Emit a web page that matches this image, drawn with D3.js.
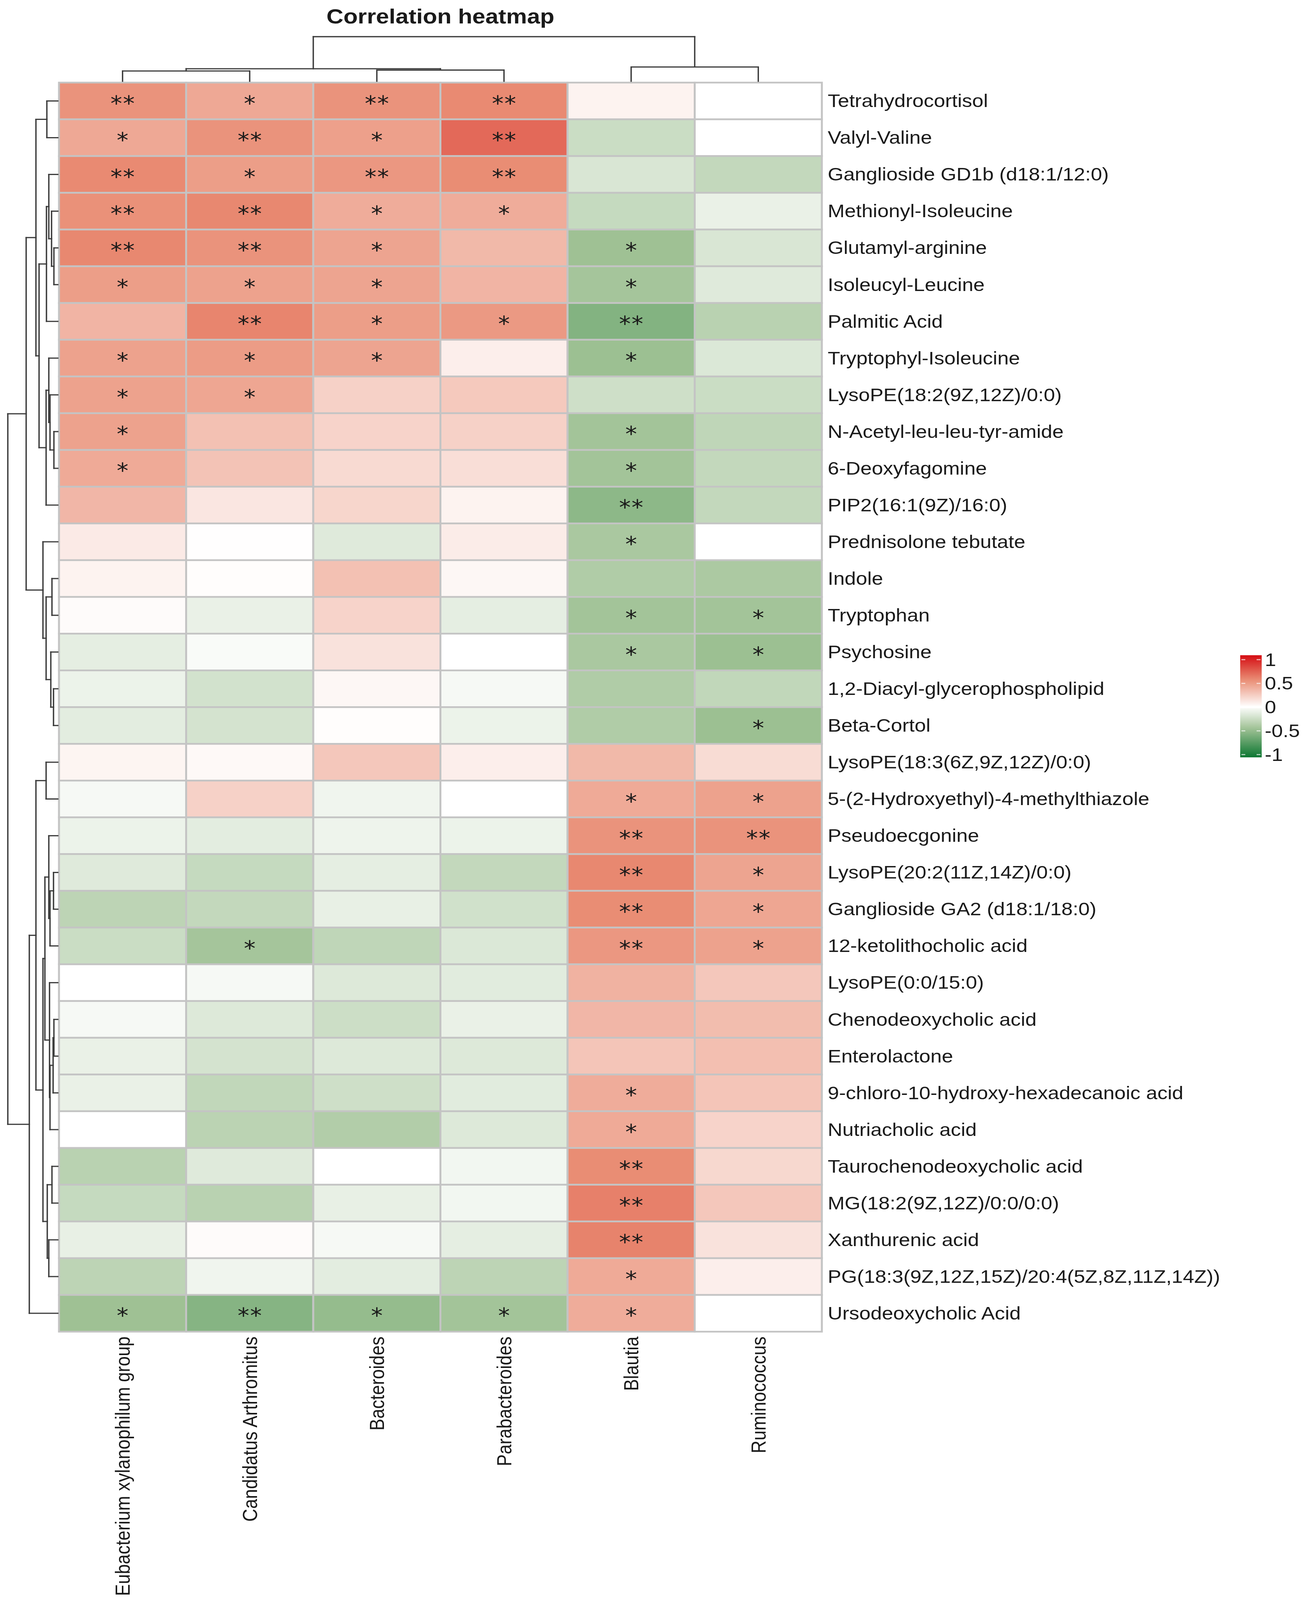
<!DOCTYPE html>
<html lang="en"><head>
<meta charset="utf-8">
<title>Correlation heatmap</title>
<script src="https://cdnjs.cloudflare.com/ajax/libs/d3/7.8.5/d3.min.js"></script>
<style>
  html, body { margin: 0; padding: 0; background: #fff; overflow: hidden; }
  svg { display: block; }
  text { font-family: "Liberation Sans", Arial, sans-serif; fill: #1a1a1a; }
</style>
</head>
<body>
<div id="chart"></div>
<script>
// ---- data ----
var colNames = ["Eubacterium xylanophilum group", "Candidatus Arthromitus", "Bacteroides",
                "Parabacteroides", "Blautia", "Ruminococcus"];

var rowNames = ["Tetrahydrocortisol", "Valyl-Valine", "Ganglioside GD1b (d18:1/12:0)",
  "Methionyl-Isoleucine", "Glutamyl-arginine", "Isoleucyl-Leucine", "Palmitic Acid",
  "Tryptophyl-Isoleucine", "LysoPE(18:2(9Z,12Z)/0:0)", "N-Acetyl-leu-leu-tyr-amide",
  "6-Deoxyfagomine", "PIP2(16:1(9Z)/16:0)", "Prednisolone tebutate", "Indole", "Tryptophan",
  "Psychosine", "1,2-Diacyl-glycerophospholipid", "Beta-Cortol", "LysoPE(18:3(6Z,9Z,12Z)/0:0)",
  "5-(2-Hydroxyethyl)-4-methylthiazole", "Pseudoecgonine", "LysoPE(20:2(11Z,14Z)/0:0)",
  "Ganglioside GA2 (d18:1/18:0)", "12-ketolithocholic acid", "LysoPE(0:0/15:0)",
  "Chenodeoxycholic acid", "Enterolactone", "9-chloro-10-hydroxy-hexadecanoic acid",
  "Nutriacholic acid", "Taurochenodeoxycholic acid", "MG(18:2(9Z,12Z)/0:0/0:0)",
  "Xanthurenic acid", "PG(18:3(9Z,12Z,15Z)/20:4(5Z,8Z,11Z,14Z))", "Ursodeoxycholic Acid"];

// correlation per row (same order as colNames)
var corr = [
  [0.52, 0.42, 0.52, 0.56, 0.06, 0.00],
  [0.42, 0.52, 0.46, 0.69, -0.25, 0.00],
  [0.56, 0.47, 0.50, 0.55, -0.18, -0.28],
  [0.53, 0.57, 0.40, 0.40, -0.27, -0.10],
  [0.57, 0.52, 0.44, 0.34, -0.45, -0.18],
  [0.47, 0.45, 0.44, 0.36, -0.42, -0.15],
  [0.36, 0.58, 0.47, 0.49, -0.56, -0.33],
  [0.45, 0.48, 0.44, 0.08, -0.46, -0.17],
  [0.45, 0.43, 0.22, 0.26, -0.23, -0.25],
  [0.45, 0.30, 0.21, 0.22, -0.43, -0.30],
  [0.41, 0.29, 0.18, 0.16, -0.43, -0.28],
  [0.35, 0.12, 0.20, 0.06, -0.52, -0.28],
  [0.10, 0.005, -0.15, 0.09, -0.40, 0.00],
  [0.06, 0.01, 0.30, 0.04, -0.37, -0.39],
  [0.02, -0.10, 0.21, -0.12, -0.43, -0.43],
  [-0.12, -0.03, 0.14, 0.00, -0.40, -0.46],
  [-0.09, -0.21, 0.04, -0.04, -0.37, -0.29],
  [-0.13, -0.20, 0.01, -0.09, -0.37, -0.46],
  [0.05, 0.03, 0.27, 0.08, 0.34, 0.17],
  [-0.04, 0.22, -0.07, 0.00, 0.41, 0.45],
  [-0.09, -0.13, -0.08, -0.09, 0.52, 0.52],
  [-0.15, -0.27, -0.12, -0.28, 0.57, 0.44],
  [-0.31, -0.28, -0.11, -0.22, 0.55, 0.43],
  [-0.25, -0.42, -0.30, -0.17, 0.50, 0.45],
  [0.00, -0.04, -0.16, -0.14, 0.37, 0.27],
  [-0.04, -0.16, -0.24, -0.10, 0.35, 0.32],
  [-0.10, -0.20, -0.16, -0.16, 0.28, 0.31],
  [-0.10, -0.29, -0.23, -0.14, 0.40, 0.28],
  [0.00, -0.32, -0.36, -0.16, 0.41, 0.21],
  [-0.33, -0.15, 0.00, -0.06, 0.55, 0.19],
  [-0.27, -0.33, -0.11, -0.06, 0.60, 0.27],
  [-0.11, 0.02, -0.04, -0.12, 0.59, 0.14],
  [-0.31, -0.07, -0.13, -0.31, 0.41, 0.08],
  [-0.45, -0.55, -0.49, -0.43, 0.40, 0.00]
];

var sig = [
  ["**","*","**","**","",""], ["*","**","*","**","",""], ["**","*","**","**","",""],
  ["**","**","*","*","",""], ["**","**","*","","*",""], ["*","*","*","","*",""],
  ["","**","*","*","**",""], ["*","*","*","","*",""], ["*","*","","","",""],
  ["*","","","","*",""], ["*","","","","*",""], ["","","","","**",""],
  ["","","","","*",""], ["","","","","",""], ["","","","","*","*"],
  ["","","","","*","*"], ["","","","","",""], ["","","","","","*"],
  ["","","","","",""], ["","","","","*","*"], ["","","","","**","**"],
  ["","","","","**","*"], ["","","","","**","*"], ["","*","","","**","*"],
  ["","","","","",""], ["","","","","",""], ["","","","","",""],
  ["","","","","*",""], ["","","","","*",""], ["","","","","**",""],
  ["","","","","**",""], ["","","","","**",""], ["","","","","*",""],
  ["*","**","*","*","*",""]
];

// hclust style merges: negative = leaf (1-based), positive = earlier merge; third = height
var rowMerge = [
  [-1,-2,0.219], [-5,-6,0.078], [-4,2,0.125], [-3,3,0.18], [4,-7,0.227],
  [-10,-11,0.078], [-9,6,0.156], [-8,7,0.18], [8,-12,0.234], [5,9,0.375],
  [1,10,0.4375], [-14,-15,0.117], [-17,-18,0.086], [-16,13,0.14], [12,14,0.234],
  [-13,15,0.297], [11,16,0.633], [-19,-20,0.234], [-22,-23,0.086], [19,-24,0.156],
  [-21,20,0.18], [-26,-27,0.078], [22,-28,0.094], [23,-29,0.156], [-25,24,0.166],
  [21,25,0.258], [-30,-31,0.117], [-32,-33,0.18], [27,28,0.211], [26,29,0.297],
  [18,30,0.4375], [31,-34,0.57], [17,32,1.0]
];
var colMerge = [
  [-1,-2,0.23], [-3,-4,0.25], [1,2,0.28], [-5,-6,0.32], [3,4,1.0]
];

var legendTicks = [1, 0.5, 0, -0.5, -1];

// ---- layout ----
var W = 3346, H = 4669;
// fit the whole drawing into whatever the viewport is
var svg = d3.select("#chart").append("svg")
  .attr("viewBox", "0 0 " + W + " " + H)
  .attr("preserveAspectRatio", "none")
  .style("width", "100vw").style("height", "100vh");

var x = d3.scaleBand().domain(colNames).range([151, 2104]);
var y = d3.scaleBand().domain(rowNames).range([241, 3886]);

var fill = d3.scaleLinear()
  .domain([-1, -0.45, 0, 0.55, 1])
  .range(["#137a36", "#9fc194", "#ffffff", "#e98d74", "#d7191c"]);

svg.append("text")
  .attr("x", (x.range()[0] + x.range()[1]) / 2).attr("y", 68)
  .attr("text-anchor", "middle")
  .style("font-size", "60px").style("font-weight", "bold")
  .text("Correlation heatmap");

// cells
var cells = [];
rowNames.forEach(function(r, i) {
  colNames.forEach(function(c, j) {
    cells.push({row: r, col: c, v: corr[i][j], s: sig[i][j]});
  });
});

var g = svg.append("g");
g.selectAll("rect.cell").data(cells).enter().append("rect")
  .attr("class", "cell")
  .attr("x", function(d) { return x(d.col); })
  .attr("y", function(d) { return y(d.row); })
  .attr("width", x.bandwidth()).attr("height", y.bandwidth())
  .attr("fill", function(d) { return fill(d.v); })
  .attr("stroke", "#c4c4c4").attr("stroke-width", 5);

g.selectAll("text.star").data(cells.filter(function(d) { return d.s; })).enter().append("text")
  .attr("class", "star")
  .attr("x", function(d) { return x(d.col) + x.bandwidth() / 2 + 1; })
  .attr("y", function(d) { return y(d.row) + y.bandwidth() / 2 - 7; })
  .attr("dy", "0.58em")
  .attr("text-anchor", "middle")
  .style("font-family", "'DejaVu Sans', sans-serif")
  .style("font-size", "60px").style("letter-spacing", "2px")
  .text(function(d) { return d.s; });

// row labels
svg.append("g").selectAll("text").data(rowNames).enter().append("text")
  .attr("x", 2119)
  .attr("y", function(d) { return y(d) + y.bandwidth() / 2; })
  .attr("dominant-baseline", "central")
  .style("font-size", "52px")
  .text(function(d) { return d; });

// column labels
svg.append("g").selectAll("text").data(colNames).enter().append("text")
  .attr("transform", function(d) {
    return "translate(" + (x(d) + x.bandwidth() / 2) + ",3900) rotate(-90)";
  })
  .attr("dy", "0.36em")
  .attr("text-anchor", "end")
  .style("font-size", "52px")
  .text(function(d) { return d; });

// dendrograms
function dendroSegments(merge, leafPos) {
  var nodes = [];
  var segs = [];
  function get(id) {
    if (id < 0) return {p: leafPos[-id - 1], h: 0};
    return nodes[id - 1];
  }
  merge.forEach(function(m) {
    var a = get(m[0]), b = get(m[1]), h = m[2];
    segs.push({p1: a.p, h1: a.h, p2: a.p, h2: h});
    segs.push({p1: b.p, h1: b.h, p2: b.p, h2: h});
    segs.push({p1: a.p, h1: h, p2: b.p, h2: h});
    nodes.push({p: (a.p + b.p) / 2, h: h});
  });
  return segs;
}

var rowH = d3.scaleLinear().domain([0, 1]).range([148, 20]);
var rowSegs = dendroSegments(rowMerge, rowNames.map(function(r) { return y(r) + y.bandwidth() / 2; }));
svg.append("g").selectAll("line").data(rowSegs).enter().append("line")
  .attr("x1", function(d) { return rowH(d.h1); })
  .attr("x2", function(d) { return rowH(d.h2); })
  .attr("y1", function(d) { return d.p1; })
  .attr("y2", function(d) { return d.p2; })
  .attr("stroke", "#3c3c3c").attr("stroke-width", 3.5).attr("stroke-linecap", "square");

var colH = d3.scaleLinear().domain([0, 1]).range([237, 107]);
var colSegs = dendroSegments(colMerge, colNames.map(function(c) { return x(c) + x.bandwidth() / 2; }));
svg.append("g").selectAll("line").data(colSegs).enter().append("line")
  .attr("x1", function(d) { return d.p1; })
  .attr("x2", function(d) { return d.p2; })
  .attr("y1", function(d) { return colH(d.h1); })
  .attr("y2", function(d) { return colH(d.h2); })
  .attr("stroke", "#3c3c3c").attr("stroke-width", 3.5).attr("stroke-linecap", "square");

// legend
var ly = d3.scaleLinear().domain([1, -1]).range([1925, 2202]);
var lx = 3175, lw = 55;
var grad = svg.append("defs").append("linearGradient")
  .attr("id", "lg").attr("x1", 0).attr("y1", 0).attr("x2", 0).attr("y2", 1);
d3.range(0, 1.0001, 0.05).forEach(function(t) {
  grad.append("stop").attr("offset", t).attr("stop-color", fill(1.05 - t * 2.08));
});
svg.append("rect").attr("x", lx).attr("y", 1912).attr("width", lw).attr("height", 298)
  .attr("fill", "url(#lg)");
svg.append("rect").attr("x", lx).attr("y", ly(0) - 3).attr("width", lw).attr("height", 6)
  .attr("fill", "#fff");
var lt = svg.append("g").selectAll("g").data(legendTicks).enter().append("g");
lt.filter(function(d) { return d !== 0; }).append("line")
  .attr("x1", lx + 3).attr("x2", lx + 13)
  .attr("y1", function(d) { return ly(d); }).attr("y2", function(d) { return ly(d); })
  .attr("stroke", "#fff").attr("stroke-opacity", 0.7).attr("stroke-width", 3);
lt.filter(function(d) { return d !== 0; }).append("line")
  .attr("x1", lx + lw - 13).attr("x2", lx + lw - 3)
  .attr("y1", function(d) { return ly(d); }).attr("y2", function(d) { return ly(d); })
  .attr("stroke", "#fff").attr("stroke-opacity", 0.7).attr("stroke-width", 3);
lt.append("text")
  .attr("x", 3238).attr("y", function(d) { return ly(d); })
  .attr("dominant-baseline", "central")
  .style("font-size", "52px")
  .text(function(d) { return d; });
</script>
</body></html>
